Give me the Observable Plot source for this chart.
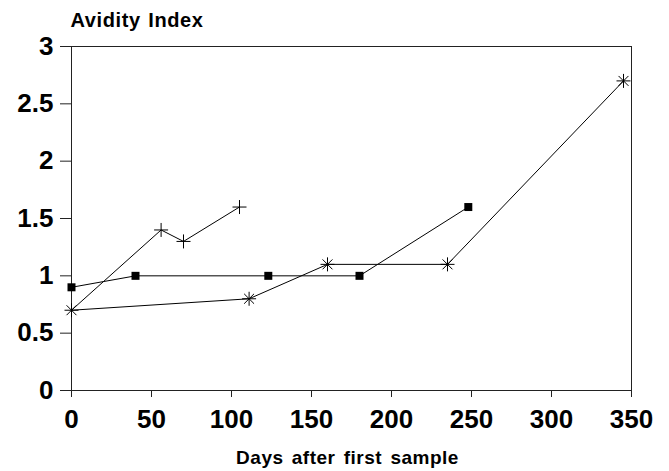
<!DOCTYPE html>
<html>
<head>
<meta charset="utf-8">
<script src="https://cdn.jsdelivr.net/npm/d3@7"></script>
<script src="https://cdn.jsdelivr.net/npm/@observablehq/plot@0.6"></script>
<style>
  html, body { margin: 0; padding: 0; background: #fff; }
  #chart svg { display: block; }
</style>
</head>
<body>
<div id="chart"></div>
<script>
// ---- data ----
const plusDays = [0, 56, 70, 105];
const plusIndex = [0.7, 1.4, 1.3, 1.6];
const squareDays = [0, 40, 123, 180, 248];
const squareIndex = [0.9, 1.0, 1.0, 1.0, 1.6];
const starDays = [0, 111, 160, 235, 345];
const starIndex = [0.7, 0.8, 1.1, 1.1, 2.7];

const xTicks = [0, 50, 100, 150, 200, 250, 300, 350];
const xTickLabels = ["0", "50", "100", "150", "200", "250", "300", "350"];
const yTicks = [0, 0.5, 1, 1.5, 2, 2.5, 3];
const yTickLabels = ["0", "0.5", "1", "1.5", "2", "2.5", "3"];

const yTitle = "Avidity Index";
const xTitle = "Days after first sample";

// ---- build tables ----
const toRows = (xs, ys) => xs.map((d, i) => ({days: d, index: ys[i]}));
const plusRows = toRows(plusDays, plusIndex);
const squareRows = toRows(squareDays, squareIndex);
const starRows = toRows(starDays, starIndex);

// ---- custom symbols ----
const plusSymbol = {
  draw(ctx, size) {
    const r = Math.sqrt(size / Math.PI);
    ctx.moveTo(-r, 0); ctx.lineTo(r, 0);
    ctx.moveTo(0, -r); ctx.lineTo(0, r);
  }
};
const starSymbol = {
  draw(ctx, size) {
    const r = Math.sqrt(size / Math.PI);
    const k = r * Math.SQRT1_2;
    ctx.moveTo(-r, 0); ctx.lineTo(r, 0);
    ctx.moveTo(0, -r); ctx.lineTo(0, r);
    ctx.moveTo(-k, -k); ctx.lineTo(k, k);
    ctx.moveTo(-k, k); ctx.lineTo(k, -k);
  }
};
const squareSymbol = {
  draw(ctx, size) {
    const r = Math.sqrt(size / Math.PI);
    ctx.rect(-r, -r, 2 * r, 2 * r);
  }
};

const font = "'Liberation Sans', Arial, Helvetica, sans-serif";

const chart = Plot.plot({
  width: 669,
  height: 471,
  marginLeft: 71,
  marginRight: 38,
  marginTop: 46,
  marginBottom: 81,
  style: {fontFamily: font, fontWeight: "bold", color: "#000", background: "#fff"},
  x: {domain: [0, 350], axis: null},
  y: {domain: [0, 3], axis: null},
  marks: [
    Plot.axisX({
      ticks: xTicks,
      tickFormat: (d) => xTickLabels[xTicks.indexOf(d)],
      tickSize: 7,
      tickPadding: 12,
      fontSize: 26,
      label: null,
      stroke: "#222"
    }),
    Plot.axisY({
      ticks: yTicks,
      tickFormat: (d) => yTickLabels[yTicks.indexOf(d)],
      tickSize: 11,
      tickPadding: 7,
      fontSize: 26,
      label: null,
      stroke: "#222"
    }),
    Plot.frame({stroke: "#222", strokeWidth: 1}),
    Plot.line(plusRows, {x: "days", y: "index", stroke: "#000", strokeWidth: 1}),
    Plot.line(squareRows, {x: "days", y: "index", stroke: "#000", strokeWidth: 1}),
    Plot.line(starRows, {x: "days", y: "index", stroke: "#000", strokeWidth: 1}),
    Plot.dot(plusRows.slice(1), {x: "days", y: "index", symbol: plusSymbol, r: 7, stroke: "#000", strokeWidth: 1, fill: "none"}),
    Plot.dot(squareRows, {x: "days", y: "index", symbol: squareSymbol, r: 4, fill: "#000", stroke: "none"}),
    Plot.dot(starRows, {x: "days", y: "index", symbol: starSymbol, r: 7, stroke: "#000", strokeWidth: 1, fill: "none"}),
    Plot.text([yTitle], {frameAnchor: "top-left", text: (d) => d, textAnchor: "start", lineAnchor: "middle", dx: -1, dy: -26, fontSize: 20, fill: "#000"}),
    Plot.text([xTitle], {frameAnchor: "bottom", text: (d) => d, lineAnchor: "middle", dx: -4, dy: 67, fontSize: 19, fill: "#000"})
  ]
});

d3.select(chart).selectAll("text")
  .filter(function () { return this.textContent === yTitle; })
  .style("letter-spacing", "0.6px").style("word-spacing", "1.5px");
d3.select(chart).selectAll("text")
  .filter(function () { return this.textContent === xTitle; })
  .style("letter-spacing", "0.5px").style("word-spacing", "2.5px");

document.getElementById("chart").appendChild(chart);
</script>
</body>
</html>
